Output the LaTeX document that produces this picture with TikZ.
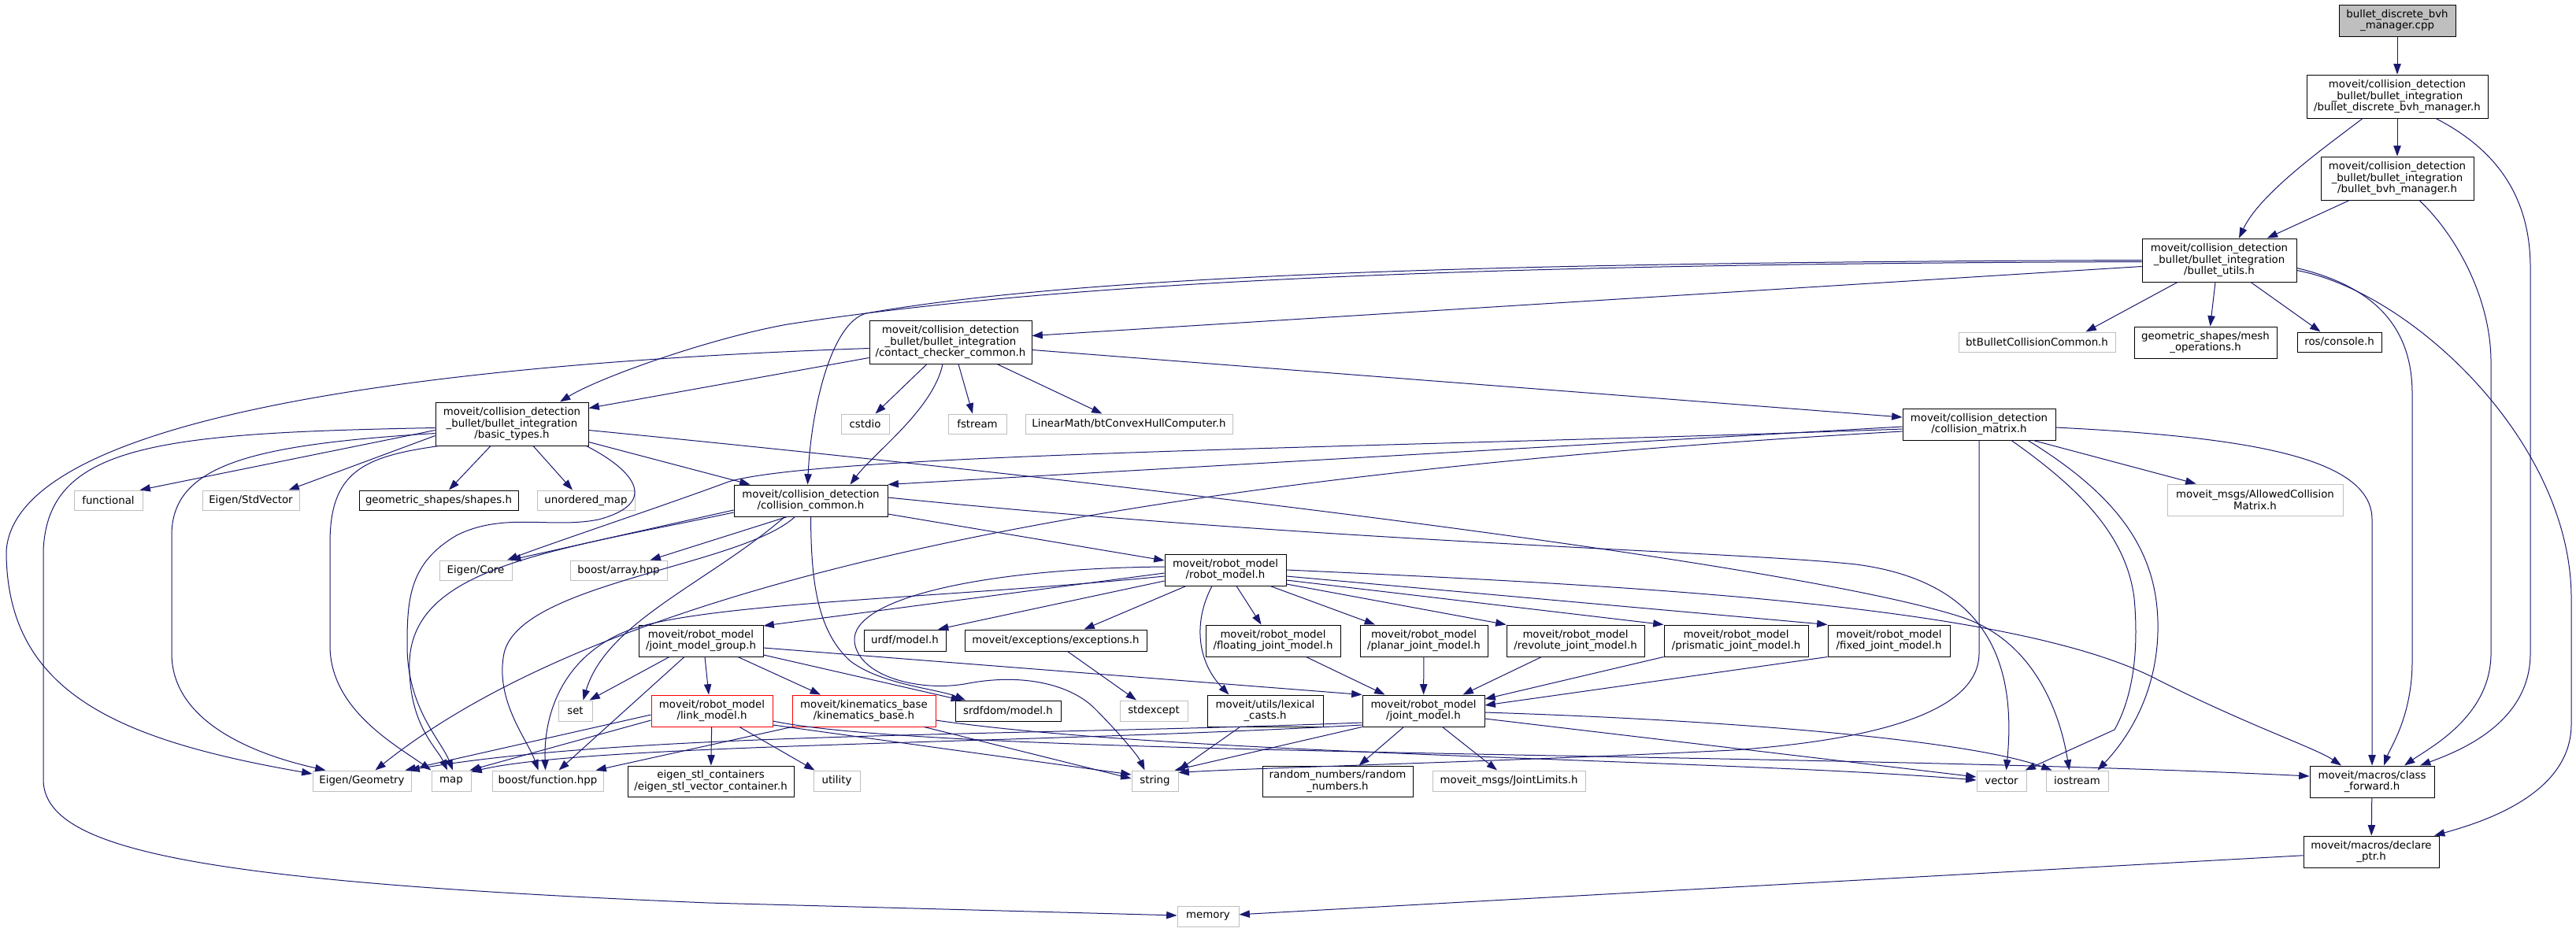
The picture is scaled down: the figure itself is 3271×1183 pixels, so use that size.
\documentclass[tikz,border=0pt]{standalone}
\usepackage{fontspec}
\setmainfont{DejaVu Sans}
\usetikzlibrary{arrows.meta,calc}
\definecolor{edgec}{RGB}{25,25,112}
\definecolor{grayb}{RGB}{191,191,191}
\newcommand\mkbox[7]{\node[#6,minimum width={(#4-#2)*0.75pt},minimum height={(#5-#3)*0.75pt}] (#1) at ({(#2+#4)/2},{(#3+#5)/2}) {#7};}
\begin{document}
\begin{tikzpicture}[x=0.75pt,y=-0.75pt,
  font=\fontsize{10}{11}\selectfont,
  nb/.style={draw=black,line width=0.75pt,fill=white,align=center,inner sep=0pt},
  ng/.style={nb,draw=grayb},
  nr/.style={nb,draw=red},
  ntop/.style={nb,fill=grayb},
  ed/.style={draw=edgec,line width=0.75pt,-{Triangle[length=10pt,width=7pt]}}]
\fill[white] (0,0) rectangle (3271,1183);
\useasboundingbox (0,0) rectangle (3271,1183);
% nodes
\mkbox{cpp}{2970}{6}{3118}{46}{ntop}{bullet\_discrete\_bvh\\\_manager.cpp}
\mkbox{dbvh}{2929}{95}{3159}{150}{nb}{moveit/collision\_detection\\\_bullet/bullet\_integration\\/bullet\_discrete\_bvh\_manager.h}
\mkbox{bvh}{2947}{199}{3141}{254}{nb}{moveit/collision\_detection\\\_bullet/bullet\_integration\\/bullet\_bvh\_manager.h}
\mkbox{utils}{2720}{303}{2916}{358}{nb}{moveit/collision\_detection\\\_bullet/bullet\_integration\\/bullet\_utils.h}
\mkbox{btBullet}{2487}{422}{2686}{447}{ng}{btBulletCollisionCommon.h}
\mkbox{meshops}{2710}{415}{2891}{455}{nb}{geometric\_shapes/mesh\\\_operations.h}
\mkbox{console}{2917}{422}{3024}{447}{nb}{ros/console.h}
\mkbox{cmatrix}{2416}{519}{2610}{559}{nb}{moveit/collision\_detection\\/collision\_matrix.h}
\mkbox{acm}{2752}{615}{2975}{655}{ng}{moveit\_msgs/AllowedCollision\\Matrix.h}
\mkbox{ccc}{1104}{407}{1310}{462}{nb}{moveit/collision\_detection\\\_bullet/bullet\_integration\\/contact\_checker\_common.h}
\mkbox{cstdio}{1068}{526}{1129}{551}{ng}{cstdio}
\mkbox{fstream}{1204}{526}{1278}{551}{ng}{fstream}
\mkbox{linmath}{1302}{526}{1565}{551}{ng}{LinearMath/btConvexHullComputer.h}
\mkbox{basic}{553}{511}{747}{566}{nb}{moveit/collision\_detection\\\_bullet/bullet\_integration\\/basic\_types.h}
\mkbox{functional}{94}{623}{181}{648}{ng}{functional}
\mkbox{stdvector}{257}{623}{380}{648}{ng}{Eigen/StdVector}
\mkbox{shapes}{456}{623}{658}{648}{nb}{geometric\_shapes/shapes.h}
\mkbox{umap}{682}{623}{806}{648}{ng}{unordered\_map}
\mkbox{ccommon}{932}{616}{1127}{656}{nb}{moveit/collision\_detection\\/collision\_common.h}
\mkbox{eigencore}{558}{712}{650}{737}{ng}{Eigen/Core}
\mkbox{barray}{724}{712}{847}{737}{ng}{boost/array.hpp}
\mkbox{robot}{1479}{704}{1633}{744}{nb}{moveit/robot\_model\\/robot\_model.h}
\mkbox{urdf}{1097}{800}{1201}{827}{nb}{urdf/model.h}
\mkbox{exceptions}{1225}{800}{1456}{827}{nb}{moveit/exceptions/exceptions.h}
\mkbox{floating}{1531}{794}{1702}{834}{nb}{moveit/robot\_model\\/floating\_joint\_model.h}
\mkbox{planar}{1727}{794}{1889}{834}{nb}{moveit/robot\_model\\/planar\_joint\_model.h}
\mkbox{revolute}{1913}{794}{2088}{834}{nb}{moveit/robot\_model\\/revolute\_joint\_model.h}
\mkbox{prismatic}{2113}{794}{2296}{834}{nb}{moveit/robot\_model\\/prismatic\_joint\_model.h}
\mkbox{fixed}{2321}{794}{2476}{834}{nb}{moveit/robot\_model\\/fixed\_joint\_model.h}
\mkbox{jmg}{811}{794}{969}{834}{nb}{moveit/robot\_model\\/joint\_model\_group.h}
\mkbox{jointm}{1730}{883}{1885}{923}{nb}{moveit/robot\_model\\/joint\_model.h}
\mkbox{lexical}{1533}{883}{1680}{923}{nb}{moveit/utils/lexical\\\_casts.h}
\mkbox{stdexcept}{1422}{890}{1508}{916}{ng}{stdexcept}
\mkbox{srdfdom}{1213}{890}{1347}{916}{nb}{srdfdom/model.h}
\mkbox{kin}{1006}{883}{1188}{923}{nr}{moveit/kinematics\_base\\/kinematics\_base.h}
\mkbox{link}{827}{883}{981}{923}{nr}{moveit/robot\_model\\/link\_model.h}
\mkbox{set}{709}{890}{752}{916}{ng}{set}
\mkbox{egeom}{397}{979}{522}{1005}{ng}{Eigen/Geometry}
\mkbox{map}{548}{979}{598}{1005}{ng}{map}
\mkbox{bfunc}{625}{979}{766}{1005}{ng}{boost/function.hpp}
\mkbox{eigenstl}{797}{973}{1008}{1012}{nb}{eigen\_stl\_containers\\/eigen\_stl\_vector\_container.h}
\mkbox{utility}{1033}{979}{1092}{1005}{ng}{utility}
\mkbox{string}{1437}{979}{1496}{1005}{ng}{string}
\mkbox{random}{1603}{973}{1794}{1012}{nb}{random\_numbers/random\\\_numbers.h}
\mkbox{jlimits}{1819}{979}{2013}{1005}{ng}{moveit\_msgs/JointLimits.h}
\mkbox{vector}{2510}{979}{2573}{1005}{ng}{vector}
\mkbox{iostream}{2598}{979}{2677}{1005}{ng}{iostream}
\mkbox{cforward}{2933}{973}{3091}{1013}{nb}{moveit/macros/class\\\_forward.h}
\mkbox{declare}{2925}{1062}{3097}{1102}{nb}{moveit/macros/declare\\\_ptr.h}
\mkbox{memory}{1495}{1151}{1573}{1177}{ng}{memory}
% edges: top chain
\draw[ed] (cpp) -- (dbvh);
\draw[ed] (dbvh) -- (bvh);
\draw[ed] ($(dbvh.south)+(-44,0)$) .. controls (2955,185) and (2870,245) .. ($(utils.north)+(25,0)$);
\draw[ed] (bvh) -- (utils);
\draw[ed] ($(dbvh.south)+(49,0)$) .. controls (3170,190) and (3213,250) .. (3213,340) -- (3213,830) .. controls (3213,920) and (3120,955) .. ($(cforward.north)+(61,0)$);
\draw[ed] ($(bvh.south)+(28,0)$) .. controls (3120,300) and (3163,380) .. (3163,460) -- (3163,830) .. controls (3163,910) and (3085,950) .. ($(cforward.north)+(41,0)$);
\draw[ed] ($(utils.east)+(0,10)$) .. controls (3020,365) and (3063,420) .. (3063,500) -- (3063,840) .. controls (3063,910) and (3035,950) .. ($(cforward.north)+(15,0)$);
\draw[ed] ($(utils.east)+(0,13)$) .. controls (3060,370) and (3265,560) .. (3265,760) -- (3265,920) .. controls (3265,1010) and (3150,1045) .. ($(declare.north)+(80,0)$);
% utils
\draw[ed] ($(utils.south)+(-53,0)$) -- ($(btBullet.north)+(62,0)$);
\draw[ed] ($(utils.south)+(-5,0)$) -- ($(meshops.north)+(6,0)$);
\draw[ed] ($(utils.south)+(40,0)$) -- ($(console.north)+(-24,0)$);
\draw[ed] ($(utils.west)+(0,8)$) -- ($(ccc.east)+(0,-8)$);
\draw[ed] ($(utils.west)+(0,2)$) .. controls (2000,335) and (1400,350) .. (1000,412) .. controls (900,430) and (760,480) .. ($(basic.north)+(61,0)$);
\draw[ed] (utils.west) .. controls (2000,333) and (1400,345) .. (1100,398) .. controls (1055,410) and (1030,520) .. ($(ccommon.north)+(-4,0)$);
% ccc
\draw[ed] ($(ccc.west)+(0,20)$) -- ($(basic.east)+(0,-20)$);
\draw[ed] ($(ccc.south)+(-10,0)$) .. controls (1185,520) and (1110,575) .. ($(ccommon.north)+(50,0)$);
\draw[ed] ($(ccc.south)+(-30,0)$) -- ($(cstdio.north)+(13,0)$);
\draw[ed] ($(ccc.south)+(10,0)$) -- ($(fstream.north)+(-6,0)$);
\draw[ed] ($(ccc.south)+(59,0)$) -- ($(linmath.north)+(-34,0)$);
\draw[ed] ($(ccc.east)+(0,10)$) -- ($(cmatrix.west)+(0,-9)$);
\draw[ed] ($(ccc.west)+(0,8)$) .. controls (600,460) and (20,520) .. (8,700) .. controls (8,880) and (150,940) .. ($(egeom.west)+(0,-9)$);
% basic
\draw[ed] ($(basic.west)+(0,8)$) -- ($(functional.north)+(40,0)$);
\draw[ed] ($(basic.west)+(0,15)$) -- ($(stdvector.north)+(48,0)$);
\draw[ed] ($(basic.south)+(-27,0)$) -- ($(shapes.north)+(13,0)$);
\draw[ed] ($(basic.south)+(27,0)$) -- ($(umap.north)+(-17,0)$);
\draw[ed] ($(basic.east)+(0,23)$) -- ($(ccommon.north)+(-77,0)$);
\draw[ed] ($(basic.west)+(0,5)$) .. controls (200,550) and (60,565) .. (55,700) -- (55,990) .. controls (55,1080) and (250,1120) .. (900,1147) -- (memory);
\draw[ed] ($(basic.west)+(0,12)$) .. controls (320,565) and (218,590) .. (218,680) -- (218,830) .. controls (218,920) and (330,960) .. ($(egeom.north)+(-46,0)$);
\draw[ed] ($(basic.south west)+(5,0)$) .. controls (460,580) and (419,600) .. (419,690) -- (419,820) .. controls (419,900) and (500,945) .. (map.north west);
\draw[ed] ($(basic.south east)+(-3,0)$) .. controls (810,600) and (835,640) .. (760,660) .. controls (700,672) and (640,650) .. (580,680) .. controls (520,715) and (517,760) .. (517,820) .. controls (517,900) and (560,940) .. ($(map.north)+(2,0)$);
\draw[ed] ($(basic.east)+(0,8)$) .. controls (1500,620) and (2300,720) .. (2494,785) .. controls (2580,815) and (2615,900) .. ($(iostream.north)+(-10,0)$);
% ccommon
\draw[ed] ($(ccommon.west)+(0,12)$) -- ($(eigencore.north)+(44,0)$);
\draw[ed] ($(ccommon.south)+(-30,0)$) -- ($(barray.north)+(40,0)$);
\draw[ed] ($(ccommon.south)+(-33,0)$) .. controls (900,740) and (770,790) .. ($(set.north)+(10,0)$);
\draw[ed] ($(ccommon.south)+(-20,0)$) .. controls (940,720) and (660,740) .. (640,830) .. controls (628,890) and (670,940) .. ($(bfunc.north)+(-12,0)$);
\draw[ed] ($(ccommon.west)+(0,15)$) .. controls (700,700) and (525,720) .. (520,840) .. controls (518,920) and (555,950) .. ($(map.north)+(-5,0)$);
\draw[ed] ($(ccommon.east)+(0,17)$) -- ($(robot.west)+(0,-12)$);
\draw[ed] ($(ccommon.east)+(0,-4)$) .. controls (1700,690) and (2200,700) .. (2357,717) .. controls (2530,740) and (2560,850) .. ($(vector.north)+(6,0)$);
\draw[ed] (ccommon.south) .. controls (1030,730) and (1035,800) .. (1080,840) .. controls (1120,870) and (1190,875) .. ($(srdfdom.north)+(-54,0)$);
% robot
\draw[ed] ($(robot.west)+(0,14)$) -- ($(urdf.north)+(42,0)$);
\draw[ed] ($(robot.south)+(-50,0)$) -- ($(exceptions.north)+(36,0)$);
\draw[ed] ($(robot.south)+(14,0)$) -- ($(floating.north)+(-15,0)$);
\draw[ed] ($(robot.south)+(57,0)$) -- ($(planar.north)+(-62,0)$);
\draw[ed] ($(robot.east)+(0,18)$) -- (revolute.north west);
\draw[ed] ($(robot.east)+(0,13)$) -- (prismatic.north west);
\draw[ed] ($(robot.east)+(0,8)$) -- (fixed.north west);
\draw[ed] ($(robot.west)+(0,4)$) -- ($(jmg.east)+(0,-19)$);
\draw[ed] ($(robot.south)+(-17,0)$) .. controls (1515,790) and (1520,840) .. ($(lexical.north)+(-46,0)$);
\draw[ed] ($(robot.west)+(0,-4)$) .. controls (1250,722) and (1080,760) .. (1085,815) .. controls (1090,860) and (1170,880) .. (1230,868) .. controls (1300,855) and (1360,870) .. (1390,900) .. controls (1420,930) and (1445,960) .. ($(string.north)+(-13,0)$);
\draw[ed] (robot.east) .. controls (2100,745) and (2550,770) .. (2733,860) .. controls (2850,920) and (2940,950) .. ($(cforward.north)+(-39,0)$);
\draw[ed] ($(robot.west)+(0,8)$) .. controls (1200,760) and (900,765) .. (800,800) .. controls (720,830) and (690,900) .. ($(bfunc.north)+(-3,0)$);
% jmg
\draw[ed] ($(jmg.south)+(-40,0)$) -- ($(set.north)+(18,0)$);
\draw[ed] ($(jmg.south)+(5,0)$) -- ($(link.north)+(-4,0)$);
\draw[ed] ($(jmg.south)+(47,0)$) -- ($(kin.north)+(-55,0)$);
\draw[ed] ($(jmg.east)+(0,18)$) -- ($(srdfdom.north)+(-59,0)$);
\draw[ed] ($(jmg.east)+(0,9)$) -- (jointm.north west);
\draw[ed] ($(jmg.south)+(-21,0)$) -- ($(bfunc.north)+(14,0)$);
% link
\draw[ed] ($(link.west)+(0,5)$) -- ($(egeom.north east)+(-8,0)$);
\draw[ed] ($(link.west)+(0,12)$) -- ($(map.north east)+(-2,0)$);
\draw[ed] (link) -- (eigenstl);
\draw[ed] ($(link.south)+(35,0)$) -- ($(utility.north)+(-28,0)$);
\draw[ed] ($(link.east)+(0,18)$) -- ($(string.west)+(0,-8)$);
\draw[ed] ($(link.east)+(0,13)$) .. controls (1200,962) and (2300,955) .. ($(cforward.west)+(0,-7)$);
% kin
\draw[ed] (kin.south west) -- ($(bfunc.north east)+(-10,0)$);
\draw[ed] ($(kin.south east)+(-15,0)$) -- ($(string.west)+(0,-3)$);
\draw[ed] ($(kin.east)+(0,12)$) .. controls (1500,960) and (2200,965) .. ($(vector.west)+(0,-1)$);
% jointm
\draw[ed] ($(jointm.west)+(0,15)$) .. controls (1300,935) and (800,930) .. ($(egeom.north east)+(-3,0)$);
\draw[ed] ($(jointm.west)+(0,18)$) .. controls (1300,945) and (750,945) .. ($(map.north east)+(0,2)$);
\draw[ed] (jointm.south west) -- ($(string.north east)+(-5,0)$);
\draw[ed] ($(jointm.south)+(-25,0)$) -- ($(random.north)+(27,0)$);
\draw[ed] ($(jointm.south)+(24,0)$) -- ($(jlimits.north)+(-15,0)$);
\draw[ed] ($(jointm.east)+(0,10)$) -- ($(vector.west)+(0,-5)$);
\draw[ed] ($(jointm.east)+(0,2)$) .. controls (2200,915) and (2500,940) .. ($(iostream.north)+(-32,0)$);
% misc
\draw[ed] ($(lexical.south)+(-32,0)$) -- ($(string.north)+(30,0)$);
\draw[ed] ($(exceptions.south)+(15,0)$) -- ($(stdexcept.north)+(-22,0)$);
\draw[ed] ($(floating.south)+(42,0)$) -- ($(jointm.north)+(-49,0)$);
\draw[ed] (planar) -- (jointm);
\draw[ed] ($(revolute.south)+(-43,0)$) -- ($(jointm.north)+(50,0)$);
\draw[ed] (prismatic.south west) -- ($(jointm.east)+(0,-15)$);
\draw[ed] (fixed.south west) -- ($(jointm.east)+(0,-7)$);
% cmatrix
\draw[ed] ($(cmatrix.south)+(69,0)$) -- ($(acm.north)+(-75,0)$);
\draw[ed] ($(cmatrix.west)+(0,3)$) -- (ccommon.north east);
\draw[ed] ($(cmatrix.west)+(0,6)$) .. controls (1800,568) and (1050,575) .. (925,612) .. controls (850,640) and (700,690) .. ($(eigencore.north)+(40,0)$);
\draw[ed] ($(cmatrix.west)+(0,9)$) .. controls (1500,600) and (800,720) .. ($(egeom.north)+(17,0)$);
\draw[ed] (cmatrix.south) -- (2513,830) .. controls (2513,905) and (2380,940) .. (2200,953) .. controls (1900,968) and (1600,975) .. ($(string.north east)+(0,3)$);
\draw[ed] ($(cmatrix.south)+(41,0)$) .. controls (2640,620) and (2700,680) .. (2710,760) .. controls (2718,850) and (2700,900) .. (2685,927) -- ($(vector.north)+(30,0)$);
\draw[ed] ($(cmatrix.south)+(62,0)$) .. controls (2690,630) and (2738,700) .. (2740,790) .. controls (2742,880) and (2700,940) .. ($(iostream.north)+(26,0)$);
\draw[ed] ($(cmatrix.east)+(0,4)$) .. controls (2850,555) and (3012,580) .. (3012,660) -- (cforward.north);
% bottom right
\draw[ed] (cforward) -- (declare);
\draw[ed] (declare) -- (memory);
\end{tikzpicture}
\end{document}
